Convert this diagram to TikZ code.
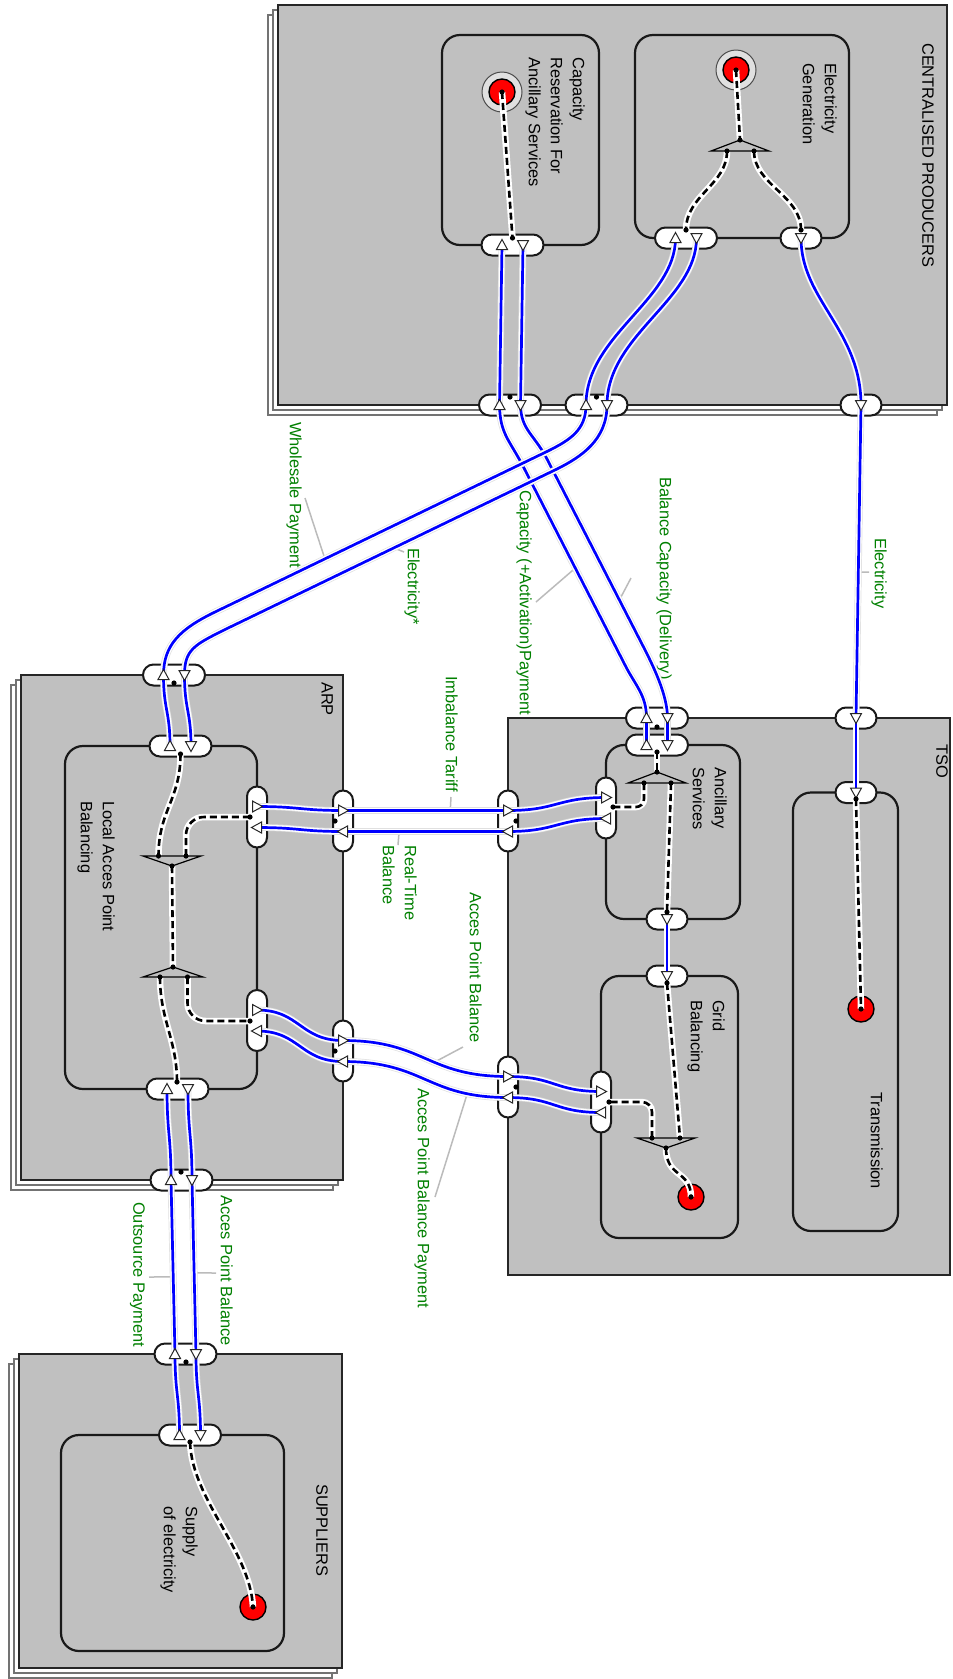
\documentclass[tikz,border=0pt]{standalone}
\usepackage{fontspec}
\setmainfont{Liberation Sans}
\usetikzlibrary{shapes.misc,calc}
\definecolor{boxfill}{HTML}{C0C0C0}
\definecolor{lblgreen}{HTML}{008000}
\definecolor{leadgray}{HTML}{BBBBBB}
\definecolor{flowblue}{HTML}{0000FF}
\definecolor{redspot}{HTML}{FF0000}
\tikzset{
  mainbox/.style={fill=boxfill, draw=black!85, line width=2.4},
  backbox/.style={fill=white, draw=black!55, line width=1.4},
  innerbox/.style={draw=black!90, line width=2.2, rounded corners=18},
  pillbase/.style={rounded rectangle, fill=white, draw=black!90, line width=2, inner sep=0pt},
  pilld/.style={pillbase, minimum width=62, minimum height=21},
  pills/.style={pillbase, minimum width=41, minimum height=21},
  pillv/.style={pillbase, minimum width=61, minimum height=20, rotate=90},
  title/.style={rotate=-90, anchor=north west, align=left, inner sep=0pt, font=\fontsize{16.4}{22}\selectfont},
  flowlabel/.style={title, text=lblgreen},
  leader/.style={draw=leadgray, line width=1.5},
  flow/.style={preaction={draw=black!12, line width=6.8}, preaction={draw=white, line width=5.4}, draw=flowblue, line width=2.7},
  dashlink/.style={preaction={draw=white, line width=6.5, solid}, draw=black, line width=2.6, dash pattern=on 7pt off 4pt},
  mergetri/.style={fill=boxfill, draw=black, line width=1.2, line join=miter},
  spot/.style={fill=redspot, draw=black, line width=1.4},
  spotring/.style={fill=black!12, draw=black!70, line width=1},
  tri/.pic={\draw[fill=white, draw=black!85, line width=1] (0,-5.5) -- (5.5,4.5) -- (-5.5,4.5) -- cycle;},
}
\begin{document}
\begin{tikzpicture}[x=1pt,y=-1pt]
\useasboundingbox (0,0) rectangle (953,1679);
\fill[white] (0,0) rectangle (953,1679);

% ---------- organisation boxes (stacked ones first)
\foreach \d in {10,5} {
  \draw[backbox] (278-\d,5+\d) rectangle (947-\d,405+\d);
  \draw[backbox] (21-\d,675+\d) rectangle (343-\d,1180+\d);
  \draw[backbox] (19-\d,1354+\d) rectangle (342-\d,1668+\d);
}
\draw[mainbox] (278,5) rectangle (947,405);
\draw[mainbox] (508,718) rectangle (950,1275);
\draw[mainbox] (21,675) rectangle (343,1180);
\draw[mainbox] (19,1354) rectangle (342,1668);

% ---------- activity boxes
\draw[innerbox] (442,35) rectangle (599,245);
\draw[innerbox] (635,35) rectangle (849,238);
\draw[innerbox] (606,745) rectangle (740,919);
\draw[innerbox] (601,976) rectangle (738,1238);
\draw[innerbox] (793,792.5) rectangle (898,1231);
\draw[innerbox] (65,746) rectangle (257,1089);
\draw[innerbox] (61,1435) rectangle (284,1651);

% ---------- titles
\node[title] (tCP) at (934,43) {CENTRALISED PRODUCERS};
\node[title] (tCRAS) at (585,57) {Capacity\\Reservation For\\Ancillary Services};
\node[title] (tEG) at (837,63) {Electricity\\Generation};
\node[title] (tTSO) at (948,744) {TSO};
\node[title] (tAS) at (727,767) {Ancillary\\Services};
\node[title] (tGB) at (725,1000) {Grid\\Balancing};
\node[title] (tTR) at (883,1092) {Transmission};
\node[title] (tARP) at (333,682) {ARP};
\node[title] (tLAP) at (115,801) {Local Acces Point\\Balancing};
\node[title] (tSUP) at (328,1484) {SUPPLIERS};
\node[title] (tSUPI) at (198,1506) {Supply\\of electricity};

% ---------- start / end spots
\coordinate (crasRed) at (502,92);
\coordinate (egRed) at (736,70);
\coordinate (trRed) at (861,1009);
\coordinate (gbRed) at (691,1197);
\coordinate (supRed) at (253,1607);
\draw[spotring] (crasRed) circle (20);
\draw[spot] (crasRed) circle (13);
\draw[spotring] (egRed) circle (20);
\draw[spot] (egRed) circle (13);
\foreach \p in {trRed,gbRed,supRed} \draw[spot] (\p) circle (13);

% ---------- ports (pills)
\node[pilld] (pCRAS) at (512.5,245) {};
\node[pilld] (pEG1) at (686,238) {};
\node[pills] (pEG2) at (801,238) {};
\node[pilld] (pCP1) at (510,405) {};
\node[pilld] (pCP2) at (596.5,405) {};
\node[pills] (pCP3) at (861,405) {};
\node[pilld] (pTSO1) at (657,718) {};
\node[pills] (pTSO2) at (856,718) {};
\node[pilld] (pAS1) at (657,745) {};
\node[pillv] (pASL) at (606,808) {};
\node[pills] (pASB) at (667,919) {};
\node[pills] (pGBT) at (667,976) {};
\node[pills] (pTR) at (856,792.5) {};
\node[pillv] (pTL1) at (508,821) {};
\node[pillv] (pTL2) at (508,1087) {};
\node[pillv] (pGBL) at (601,1102) {};
\node[pilld] (pARPT) at (174,675) {};
\node[pilld] (pLAPT) at (180.5,746) {};
\node[pilld] (pLAPB) at (177.5,1089) {};
\node[pilld] (pARPB) at (181.5,1180) {};
\node[pillv] (pLR1) at (257,817) {};
\node[pillv] (pAR1) at (343,821) {};
\node[pillv] (pLR2) at (257,1020.5) {};
\node[pillv] (pAR2) at (343,1051) {};
\node[pilld] (pSUPT) at (185.5,1354) {};
\node[pilld] (pSUPI) at (190,1435) {};

% port points
\coordinate (crasU) at (502,245);   \coordinate (crasD) at (523,245);
\coordinate (cp1U) at (499.5,405);  \coordinate (cp1D) at (520.5,405);
\coordinate (eg1U) at (675.5,238);  \coordinate (eg1D) at (696.5,238);
\coordinate (eg2D) at (801,238);
\coordinate (cp2U) at (586,405);    \coordinate (cp2D) at (607,405);
\coordinate (cp3D) at (861,405);
\coordinate (tso1U) at (646.5,718); \coordinate (tso1D) at (667.5,718);
\coordinate (as1U) at (646.5,745);  \coordinate (as1D) at (667.5,745);
\coordinate (tso2D) at (856,718);   \coordinate (trD) at (856,792.5);
\coordinate (asbD) at (667,919);    \coordinate (gbtD) at (667,976);
\coordinate (aslR) at (606,797.5);  \coordinate (aslL) at (606,818.5);
\coordinate (tl1R) at (508,810.5);  \coordinate (tl1L) at (508,831.5);
\coordinate (tl2R) at (508,1076.5); \coordinate (tl2L) at (508,1097.5);
\coordinate (gblR) at (601,1091.5); \coordinate (gblL) at (601,1112.5);
\coordinate (arptU) at (163.5,675); \coordinate (arptD) at (184.5,675);
\coordinate (laptU) at (170,746);   \coordinate (laptD) at (191,746);
\coordinate (lapbU) at (167,1089);  \coordinate (lapbD) at (188,1089);
\coordinate (arpbU) at (171,1180);  \coordinate (arpbD) at (192,1180);
\coordinate (lr1R) at (257,806.5);  \coordinate (lr1L) at (257,827.5);
\coordinate (ar1R) at (343,810.5);  \coordinate (ar1L) at (343,831.5);
\coordinate (lr2R) at (257,1010);   \coordinate (lr2L) at (257,1031);
\coordinate (ar2R) at (343,1040.5); \coordinate (ar2L) at (343,1061.5);
\coordinate (suptU) at (175,1354);  \coordinate (suptD) at (196,1354);
\coordinate (supiU) at (179.5,1435); \coordinate (supiD) at (200.5,1435);

% connection dots
\coordinate (crasDot) at (512.5,238);
\coordinate (eg1Dot) at (686,230);  \coordinate (eg2Dot) at (801,230);
\coordinate (cp1Dot) at (510,397);  \coordinate (cp2Dot) at (596.5,397);
\coordinate (tso1Dot) at (657,727); \coordinate (as1Dot) at (657,752);
\coordinate (aslDot) at (613,807);  \coordinate (asbDot) at (667,912);
\coordinate (gbtDot) at (667,983);  \coordinate (gblDot) at (609,1102);
\coordinate (trDot) at (856,799);
\coordinate (tl1Dot) at (516,821);  \coordinate (tl2Dot) at (516,1087);
\coordinate (ar1Dot) at (335,821);  \coordinate (ar2Dot) at (335,1051);
\coordinate (lr1Dot) at (250,817);  \coordinate (lr2Dot) at (250,1021);
\coordinate (arptDot) at (174,683); \coordinate (laptDot) at (180.5,754);
\coordinate (lapbDot) at (177,1082); \coordinate (arpbDot) at (181,1172);
\coordinate (suptDot) at (186,1362); \coordinate (supiDot) at (190,1442);

% merge / split bars
\coordinate (egA) at (740,140); \coordinate (egBL) at (711,151); \coordinate (egBR) at (769,151);
\coordinate (egL) at (727,151); \coordinate (egR) at (754,151);
\coordinate (asA) at (657,772); \coordinate (asBL) at (628,783); \coordinate (asBR) at (686,783);
\coordinate (asL) at (644,783); \coordinate (asR) at (671,783);
\coordinate (gbA) at (666,1148); \coordinate (gbBL) at (637,1138); \coordinate (gbBR) at (695,1138);
\coordinate (gbL) at (652,1138); \coordinate (gbR) at (680,1138);
\coordinate (tuA) at (172,866); \coordinate (tuBL) at (143,856); \coordinate (tuBR) at (201,856);
\coordinate (tuL) at (158.5,856); \coordinate (tuR) at (186,856);
\coordinate (tlA) at (173,967); \coordinate (tlBL) at (143,977); \coordinate (tlBR) at (203,977);
\coordinate (tlL) at (160,977); \coordinate (tlR) at (187.5,977);

% ---------- internal control links (dashed)
\draw[dashlink] (crasRed) -- (crasDot);
\draw[dashlink] (egRed) -- (egA);
\draw[dashlink] (egL) .. controls ($(egL)+(0,34)$) and ($(eg1Dot)+(0,-35)$) .. (eg1Dot);
\draw[dashlink] (egR) .. controls ($(egR)+(0,34)$) and ($(eg2Dot)+(0,-35)$) .. (eg2Dot);
\draw[dashlink] (as1Dot) -- (asA);
\draw[dashlink, rounded corners=8] (asL) |- (aslDot);
\draw[dashlink] (asR) -- (asbDot);
\draw[dashlink] (gbtDot) -- (gbR);
\draw[dashlink, rounded corners=10] (gbL) |- (gblDot);
\draw[dashlink] (gbA) .. controls ($(gbA)+(0,30)$) and ($(gbRed)+(0,-27)$) .. (gbRed);
\draw[dashlink] (trDot) -- (trRed);
\draw[dashlink] (laptDot) .. controls ($(laptDot)+(0,46)$) and ($(tuL)+(0,-46)$) .. (tuL);
\draw[dashlink, rounded corners=18] (tuR) |- (lr1Dot);
\draw[dashlink] (tuA) -- (tlA);
\draw[dashlink] (tlL) .. controls ($(tlL)+(0,43)$) and ($(lapbDot)+(0,-42)$) .. (lapbDot);
\draw[dashlink, rounded corners=18] (tlR) |- (lr2Dot);
\draw[dashlink] (supiDot) .. controls ($(supiDot)+(2,58)$) and ($(supRed)+(-3,-57)$) .. (supRed);

\draw[mergetri] (egBL) -- (egBR) -- (egA) -- cycle;
\draw[mergetri] (asBL) -- (asBR) -- (asA) -- cycle;
\draw[mergetri] (gbBL) -- (gbBR) -- (gbA) -- cycle;
\draw[mergetri] (tuBL) -- (tuBR) -- (tuA) -- cycle;
\draw[mergetri] (tlBL) -- (tlBR) -- (tlA) -- cycle;

% ---------- flow labels
\node[flowlabel] (lWP) at (302,422) {Wholesale Payment};
\node[flowlabel] (lEs) at (420,548) {Electricity*};
\node[flowlabel] (lCAP) at (532,490) {Capacity (+Activation)Payment};
\node[flowlabel] (lBCD) at (672,477) {Balance Capacity (Delivery)};
\node[flowlabel] (lEl) at (887,538) {Electricity};
\node[flowlabel] (lIT) at (458,676) {Imbalance Tariff};
\node[flowlabel] (lRTB) at (417,845) {Real-Time\\Balance};
\node[flowlabel] (lAPB) at (482,892) {Acces Point Balance};
\node[flowlabel] (lAPBP) at (430,1088) {Acces Point Balance Payment};
\node[flowlabel] (lOP) at (145,1202) {Outsource Payment};
\node[flowlabel] (lAPB2) at (233,1195) {Acces Point Balance};

% ---------- flow path geometry (leaders drawn first, flows on top)
\coordinate (c1a) at (525,470); \coordinate (c1b) at (625,665);
\coordinate (c2a) at (547,459); \coordinate (c2b) at (643,646);
\coordinate (g1a) at (548,451); \coordinate (g1b) at (215,612);
\coordinate (g2a) at (557,469); \coordinate (g2b) at (224,630);
\path (c1a) -- (c1b) coordinate[pos=0.503] (lkC);
\path (c2a) -- (c2b) coordinate[pos=0.754] (lkB);
\path (g1a) -- (g1b) coordinate[pos=0.67] (lkW);
\path (g2a) -- (g2b) coordinate[pos=0.49] (lkX);
\path (cp3D) -- (tso2D) coordinate[pos=0.534] (lkE);
\path (ar1R) -- (tl1R) coordinate[pos=0.65] (lkI);
\path (tl1L) -- (ar1L) coordinate[pos=0.66] (lkR);
\path (ar2R) .. controls ($(ar2R)+(82,0)$) and ($(tl2R)+(-82,0)$) .. (tl2R) coordinate[pos=0.57] (lkP);
\path (tl2L) .. controls ($(tl2L)+(-82,0)$) and ($(ar2L)+(82,0)$) .. (ar2L) coordinate[pos=0.2] (lkQ);
\path (arpbU) -- (suptU) coordinate[pos=0.557] (lkO);
\path (arpbD) -- (suptD) coordinate[pos=0.534] (lkA);

% label ends of the leaders
\coordinate (eW) at (305,498);  \coordinate (eX) at (404,552);
\coordinate (eC) at (536,602);  \coordinate (eB) at (631,578);
\coordinate (eE) at (869,572);  \coordinate (eI) at (451,797);
\coordinate (eR) at (398,845);  \coordinate (eP) at (463,1047);
\coordinate (eQ) at (435,1197); \coordinate (eO) at (149,1277);
\coordinate (eA) at (216,1273);
\draw[leader] (eW) -- (lkW);
\draw[leader] (lkX) -- (eX);
\draw[leader] (eC) -- (lkC);
\draw[leader] (lkB) -- (eB);
\draw[leader] (lkE) -- (eE);
\draw[leader] (eI) -- (lkI);
\draw[leader] (lkR) -- (eR);
\draw[leader] (eP) -- (lkP);
\draw[leader] (lkQ) -- (eQ);
\draw[leader] (eO) -- (lkO);
\draw[leader] (lkA) -- (eA);

% ---------- flows
\draw[flow] (crasU) -- (cp1U);
\draw[flow] (crasD) -- (cp1D);
\draw[flow] (eg1U) .. controls ($(eg1U)+(0,62)$) and ($(cp2U)+(0,-70)$) .. (cp2U);
\draw[flow] (eg1D) .. controls ($(eg1D)+(0,62)$) and ($(cp2D)+(0,-70)$) .. (cp2D);
\draw[flow] (eg2D) .. controls ($(eg2D)+(0,62)$) and ($(cp3D)+(0,-75)$) .. (cp3D);
\draw[flow] (cp3D) -- (tso2D);
\draw[flow] (tso2D) -- (trD);
\draw[flow] (cp1U) .. controls ($(cp1U)+(0.5,30)$) and ($(c1a)+(-15,-30)$) .. (c1a) -- (c1b)
   .. controls ($(c1b)+(10,20)$) and ($(tso1U)+(0,-23)$) .. (tso1U);
\draw[flow] (cp1D) .. controls ($(cp1D)+(0.5,25)$) and ($(c2a)+(-13,-25)$) .. (c2a) -- (c2b)
   .. controls ($(c2b)+(10,19.5)$) and ($(tso1D)+(0,-23)$) .. (tso1D);
\draw[flow] (cp2U) .. controls ($(cp2U)+(0,25)$) and ($(g1a)+(22,-11)$) .. (g1a) -- (g1b)
   .. controls ($(g1b)+(-35,17)$) and ($(arptU)+(0,-30)$) .. (arptU);
\draw[flow] (cp2D) .. controls ($(cp2D)+(0,35)$) and ($(g2a)+(24,-12)$) .. (g2a) -- (g2b)
   .. controls ($(g2b)+(-30,15)$) and ($(arptD)+(0,-25)$) .. (arptD);
\draw[flow] (tso1U) -- (as1U);
\draw[flow] (tso1D) -- (as1D);
\draw[flow] (asbD) -- (gbtD);
\draw[flow] (arptU) .. controls ($(arptU)+(0,35)$) and ($(laptU)+(0,-35)$) .. (laptU);
\draw[flow] (arptD) .. controls ($(arptD)+(0,35)$) and ($(laptD)+(0,-35)$) .. (laptD);
\draw[flow] (lapbU) .. controls ($(lapbU)+(0,45)$) and ($(arpbU)+(0,-45)$) .. (arpbU);
\draw[flow] (lapbD) .. controls ($(lapbD)+(0,45)$) and ($(arpbD)+(0,-45)$) .. (arpbD);
\draw[flow] (arpbU) -- (suptU);
\draw[flow] (arpbD) -- (suptD);
\draw[flow] (suptU) .. controls ($(suptU)+(0,40)$) and ($(supiU)+(0,-40)$) .. (supiU);
\draw[flow] (suptD) .. controls ($(suptD)+(0,40)$) and ($(supiD)+(0,-40)$) .. (supiD);
\draw[flow] (lr1R) .. controls ($(lr1R)+(43,0)$) and ($(ar1R)+(-43,0)$) .. (ar1R);
\draw[flow] (ar1R) -- (tl1R);
\draw[flow] (tl1R) .. controls ($(tl1R)+(49,0)$) and ($(aslR)+(-49,0)$) .. (aslR);
\draw[flow] (aslL) .. controls ($(aslL)+(-49,0)$) and ($(tl1L)+(49,0)$) .. (tl1L);
\draw[flow] (tl1L) -- (ar1L);
\draw[flow] (ar1L) .. controls ($(ar1L)+(-43,0)$) and ($(lr1L)+(43,0)$) .. (lr1L);
\draw[flow] (lr2R) .. controls ($(lr2R)+(43,0)$) and ($(ar2R)+(-43,0)$) .. (ar2R);
\draw[flow] (ar2R) .. controls ($(ar2R)+(82,0)$) and ($(tl2R)+(-82,0)$) .. (tl2R);
\draw[flow] (tl2R) .. controls ($(tl2R)+(47,0)$) and ($(gblR)+(-47,0)$) .. (gblR);
\draw[flow] (gblL) .. controls ($(gblL)+(-47,0)$) and ($(tl2L)+(47,0)$) .. (tl2L);
\draw[flow] (tl2L) .. controls ($(tl2L)+(-82,0)$) and ($(ar2L)+(82,0)$) .. (ar2L);
\draw[flow] (ar2L) .. controls ($(ar2L)+(-43,0)$) and ($(lr2L)+(43,0)$) .. (lr2L);

% ---------- flow direction marks
\foreach \p in {crasU,cp1U,eg1U,cp2U,tso1U,as1U,arptU,laptU,lapbU,arpbU,suptU,supiU}
  \pic at (\p) {tri};
\foreach \p in {crasD,cp1D,eg1D,eg2D,cp2D,cp3D,tso1D,as1D,tso2D,trD,asbD,gbtD,arptD,laptD,lapbD,arpbD,suptD,supiD}
  \pic[rotate=180] at (\p) {tri};
\foreach \p in {lr1R,ar1R,tl1R,aslR,lr2R,ar2R,tl2R,gblR}
  \pic[rotate=-90] at (\p) {tri};
\foreach \p in {lr1L,ar1L,tl1L,aslL,lr2L,ar2L,tl2L,gblL}
  \pic[rotate=90] at (\p) {tri};

% ---------- dots
\foreach \p in {crasDot,eg1Dot,eg2Dot,cp1Dot,cp2Dot,tso1Dot,as1Dot,aslDot,asbDot,gbtDot,gblDot,trDot,
  tl1Dot,tl2Dot,ar1Dot,ar2Dot,lr1Dot,lr2Dot,arptDot,laptDot,lapbDot,arpbDot,suptDot,supiDot,
  egA,egL,egR,asA,asL,asR,gbA,gbL,gbR,tuA,tuL,tuR,tlA,tlL,tlR,
  crasRed,egRed,trRed,gbRed,supRed}
  \fill[black] (\p) circle (2.6);
\end{tikzpicture}
\end{document}
